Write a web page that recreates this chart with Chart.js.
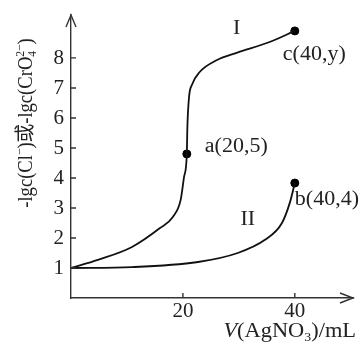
<!DOCTYPE html>
<html>
<head>
<meta charset="utf-8">
<script src="https://cdn.jsdelivr.net/npm/chart.js@4"></script>
<style>
  html, body { margin: 0; padding: 0; background: #fff; }
</style>
</head>
<body>
<canvas id="chart" width="363" height="342"></canvas>
<script>
// values: [V(AgNO3) in mL, -lgc]
const curveI = [[0, 1], [4.8, 1.27], [10.9, 1.7], [15.9, 2.33], [18.2, 2.7], [19.6, 3.27],
  [20.2, 4.03], [20.7, 4.8], [20.8, 5.7], [21.1, 6.7], [21.6, 7.1], [23.0, 7.53],
  [26.1, 7.93], [29.6, 8.17], [35.5, 8.53], [40, 8.9]];
const curveII = [[0, 1], [10.9, 1.03], [22.7, 1.2], [29.8, 1.5], [34.6, 1.93],
  [37.7, 2.5], [39.1, 3.17], [40, 3.83]];
const markedPoints = [[20.7, 4.8], [40, 8.9], [40, 3.83]];
const markedLabels = ['a(20,5)', 'c(40,y)', 'b(40,4)'];
const curveNames = ['I', 'II'];
const xTicks = [20, 40];
const yTicks = [1, 2, 3, 4, 5, 6, 7, 8];

const SERIF = '"Liberation Serif", "Times New Roman", "Noto Sans CJK SC", serif';
const INK = '#222';
const SX = 1.1; // the picture's lettering is a little wide

function toXY(pairs) {
  return pairs.map(([x, y]) => ({x, y}));
}

function font(size, italic) {
  return (italic ? 'italic ' : '') + size + 'px ' + SERIF;
}

function wideText(ctx, text, x, y, sx) {
  ctx.save();
  ctx.translate(x, y);
  ctx.scale(sx, 1);
  ctx.fillText(text, 0, 0);
  ctx.restore();
}

// a row of text pieces, some italic, some raised or lowered
function richWidth(ctx, parts, size) {
  let w = 0;
  for (const p of parts) {
    if (p.stack) {
      ctx.font = font(size * 0.62);
      w += Math.max(ctx.measureText(p.stack[0]).width, ctx.measureText(p.stack[1]).width);
    } else {
      ctx.font = font(size * (p.small ? 0.62 : 1), p.italic);
      w += ctx.measureText(p.t).width;
    }
  }
  return w;
}

function drawRich(ctx, parts, size) {
  let cx = 0;
  for (const p of parts) {
    if (p.stack) {
      ctx.font = font(size * 0.62);
      ctx.fillText(p.stack[0], cx, -size * 0.38);
      ctx.fillText(p.stack[1], cx, size * 0.22);
      cx += Math.max(ctx.measureText(p.stack[0]).width, ctx.measureText(p.stack[1]).width);
    } else {
      ctx.font = font(size * (p.small ? 0.62 : 1), p.italic);
      ctx.fillText(p.t, cx, p.raise ? -size * 0.38 : 0);
      cx += ctx.measureText(p.t).width;
    }
  }
}

const yTitle = [
  {t: '-lgc(Cl'}, {t: '−', small: true, raise: true},
  {t: ')或-lgc(CrO'}, {stack: ['2−', '4']}, {t: ')'}
];
const xTitle = [
  {t: 'V', italic: true}, {t: '(AgNO'}, {stack: ['', '3']}, {t: ')/mL'}
];

const decorations = {
  id: 'decorations',
  afterDraw(chart) {
    const {ctx, scales: {x, y}} = chart;
    const x0 = x.getPixelForValue(0);
    const y0 = y.getPixelForValue(0);
    ctx.save();
    ctx.strokeStyle = '#333';
    ctx.lineWidth = 1.4;
    ctx.beginPath();
    // inward tick marks
    y.ticks.forEach(t => {
      const py = y.getPixelForValue(t.value);
      ctx.moveTo(x0, py);
      ctx.lineTo(x0 + 5, py);
    });
    x.ticks.forEach(t => {
      const px = x.getPixelForValue(t.value);
      ctx.moveTo(px, y0);
      ctx.lineTo(px, y0 - 5);
    });
    // arrow heads
    const top = chart.chartArea.top;
    const right = chart.chartArea.right;
    ctx.moveTo(x0 - 5, top + 12);
    ctx.lineTo(x0, top);
    ctx.lineTo(x0 + 5, top + 12);
    ctx.moveTo(right - 13, y0 - 5);
    ctx.lineTo(right, y0);
    ctx.lineTo(right - 13, y0 + 5);
    ctx.stroke();

    ctx.fillStyle = INK;
    ctx.font = font(20);

    // tick labels
    ctx.textBaseline = 'middle';
    ctx.textAlign = 'right';
    y.ticks.forEach(t => wideText(ctx, String(t.value), x0 - 7, y.getPixelForValue(t.value) + 1, 1.05));
    ctx.textBaseline = 'top';
    ctx.textAlign = 'center';
    x.ticks.forEach(t => wideText(ctx, String(t.value), x.getPixelForValue(t.value), y0 + 4, 1.05));

    // point labels
    ctx.textBaseline = 'middle';
    ctx.textAlign = 'left';
    const offsets = [[18, -7], [-12, 24], [0, 17]];
    markedPoints.forEach(([vx, vy], i) => {
      wideText(ctx, markedLabels[i], x.getPixelForValue(vx) + offsets[i][0],
        y.getPixelForValue(vy) + offsets[i][1], SX);
    });
    // curve names
    ctx.textAlign = 'center';
    wideText(ctx, curveNames[0], x.getPixelForValue(29.6), y.getPixelForValue(8.97), SX);
    wideText(ctx, curveNames[1], x.getPixelForValue(31.6), y.getPixelForValue(2.6), SX);

    // axis titles
    ctx.textAlign = 'left';
    ctx.textBaseline = 'alphabetic';
    const xw = richWidth(ctx, xTitle, 20) * 1.12;
    ctx.save();
    ctx.translate(356 - xw, 337);
    ctx.scale(1.12, 1);
    drawRich(ctx, xTitle, 20);
    ctx.restore();

    ctx.translate(32, 123);
    ctx.rotate(-Math.PI / 2);
    ctx.scale(1, 1.08);
    const yw = richWidth(ctx, yTitle, 18.6);
    ctx.translate(-yw / 2, 0);
    drawRich(ctx, yTitle, 18.6);
    ctx.restore();
  }
};

new Chart(document.getElementById('chart'), {
  type: 'line',
  data: {
    datasets: [{
      label: curveNames[0],
      data: toXY(curveI),
      borderColor: '#111',
      borderWidth: 1.8,
      pointRadius: 0,
      cubicInterpolationMode: 'monotone',
    }, {
      label: curveNames[1],
      data: toXY(curveII),
      borderColor: '#111',
      borderWidth: 1.8,
      pointRadius: 0,
      cubicInterpolationMode: 'monotone',
    }, {
      label: 'points',
      data: toXY(markedPoints),
      showLine: false,
      pointRadius: 4,
      pointBackgroundColor: '#000',
      pointBorderColor: '#000',
    }]
  },
  options: {
    responsive: false,
    animation: false,
    layout: {
      padding: {top: 15, right: 10, left: 0, bottom: 0}
    },
    plugins: {
      legend: {display: false},
      tooltip: {enabled: false}
    },
    scales: {
      x: {
        type: 'linear',
        min: 0,
        max: 50.4,
        grid: {display: false, drawTicks: false},
        border: {color: '#333', width: 1.4},
        ticks: {display: false},
        afterBuildTicks: s => { s.ticks = xTicks.map(v => ({value: v})); },
        afterFit: s => { s.height = 44; }
      },
      y: {
        type: 'linear',
        min: 0,
        max: 9.43,
        grid: {display: false, drawTicks: false},
        border: {color: '#333', width: 1.4},
        ticks: {display: false},
        afterBuildTicks: s => { s.ticks = yTicks.map(v => ({value: v})); },
        afterFit: s => { s.width = 71; }
      }
    }
  },
  plugins: [decorations]
});
</script>
</body>
</html>
